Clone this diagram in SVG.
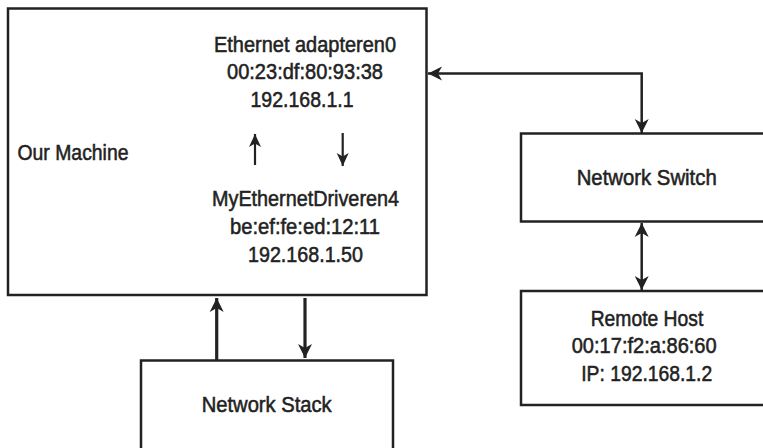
<svg xmlns="http://www.w3.org/2000/svg" width="763" height="448" viewBox="0 0 763 448">
  <style>
    .box { fill: #ffffff; stroke: #222222; stroke-width: 2.5; }
    .lbl { font-family: "Liberation Sans", Arial, sans-serif; font-size: 22.5px; fill: #222222; stroke: #222222; stroke-width: 0.55; text-anchor: middle; }
    .lblL { font-family: "Liberation Sans", Arial, sans-serif; font-size: 22.5px; fill: #222222; stroke: #222222; stroke-width: 0.55; }
    .con { fill: none; stroke: #222222; stroke-width: 2.5; }
    .conThick { fill: none; stroke: #222222; stroke-width: 3.2; }
    .conThin { fill: none; stroke: #222222; stroke-width: 2.2; }
  </style>
  <defs>
    <marker id="ah" markerUnits="userSpaceOnUse" markerWidth="16" markerHeight="16" refX="14" refY="7.5" orient="auto-start-reverse" viewBox="0 0 16 15">
      <path d="M0,0.5 L14,7.5 L0,14.5 L4,7.5 Z" fill="#222222"/>
    </marker>
    <marker id="ahs" markerUnits="userSpaceOnUse" markerWidth="14" markerHeight="14" refX="13" refY="6.5" orient="auto-start-reverse" viewBox="0 0 14 13">
      <path d="M0,0.5 L13,6.5 L0,12.5 L3.5,6.5 Z" fill="#222222"/>
    </marker>
  </defs>
  <rect width="763" height="448" fill="#ffffff"/>

  <g id="our-machine">
    <rect class="box" x="8" y="8.5" width="418.5" height="286.5"/>
    <text class="lblL" x="17.5" y="160" textLength="111" lengthAdjust="spacingAndGlyphs">Our Machine</text>
    <text class="lbl" x="305" y="52" textLength="182" lengthAdjust="spacingAndGlyphs">Ethernet adapteren0</text>
    <text class="lbl" x="305" y="79" textLength="156" lengthAdjust="spacingAndGlyphs">00:23:df:80:93:38</text>
    <text class="lbl" x="302" y="106.5" textLength="103" lengthAdjust="spacingAndGlyphs">192.168.1.1</text>
    <text class="lbl" x="305.5" y="206" textLength="187" lengthAdjust="spacingAndGlyphs">MyEthernetDriveren4</text>
    <text class="lbl" x="305" y="233.5" textLength="150" lengthAdjust="spacingAndGlyphs">be:ef:fe:ed:12:11</text>
    <text class="lbl" x="305.5" y="261.5" textLength="115" lengthAdjust="spacingAndGlyphs">192.168.1.50</text>
  </g>

  <g id="network-switch">
    <rect class="box" x="521" y="133.5" width="260" height="88"/>
    <text class="lbl" x="646.7" y="185" textLength="140" lengthAdjust="spacingAndGlyphs">Network Switch</text>
  </g>

  <g id="remote-host">
    <rect class="box" x="521" y="291" width="260" height="114"/>
    <text class="lbl" x="647" y="325.5" textLength="112.6" lengthAdjust="spacingAndGlyphs">Remote Host</text>
    <text class="lbl" x="644.2" y="353.3" textLength="145" lengthAdjust="spacingAndGlyphs">00:17:f2:a:86:60</text>
    <text class="lbl" x="646.7" y="381" textLength="131" lengthAdjust="spacingAndGlyphs">IP: 192.168.1.2</text>
  </g>

  <g id="network-stack">
    <rect class="box" x="141" y="360.5" width="252" height="95"/>
    <text class="lbl" x="266.7" y="411.7" textLength="130" lengthAdjust="spacingAndGlyphs">Network Stack</text>
  </g>

  <g id="connectors">
    <line class="conThin" x1="255" y1="165" x2="255" y2="134" marker-end="url(#ahs)"/>
    <line class="conThin" x1="342.7" y1="133" x2="342.7" y2="166" marker-end="url(#ahs)"/>
    <polyline class="con" points="428,73.5 641.7,73.5 641.7,133" marker-start="url(#ah)" marker-end="url(#ah)"/>
    <line class="con" x1="641.7" y1="223" x2="641.7" y2="290" marker-start="url(#ah)" marker-end="url(#ah)"/>
    <line class="conThick" x1="216.7" y1="360" x2="216.7" y2="298" marker-end="url(#ah)"/>
    <line class="conThick" x1="305" y1="298" x2="305" y2="358" marker-end="url(#ah)"/>
  </g>
</svg>
